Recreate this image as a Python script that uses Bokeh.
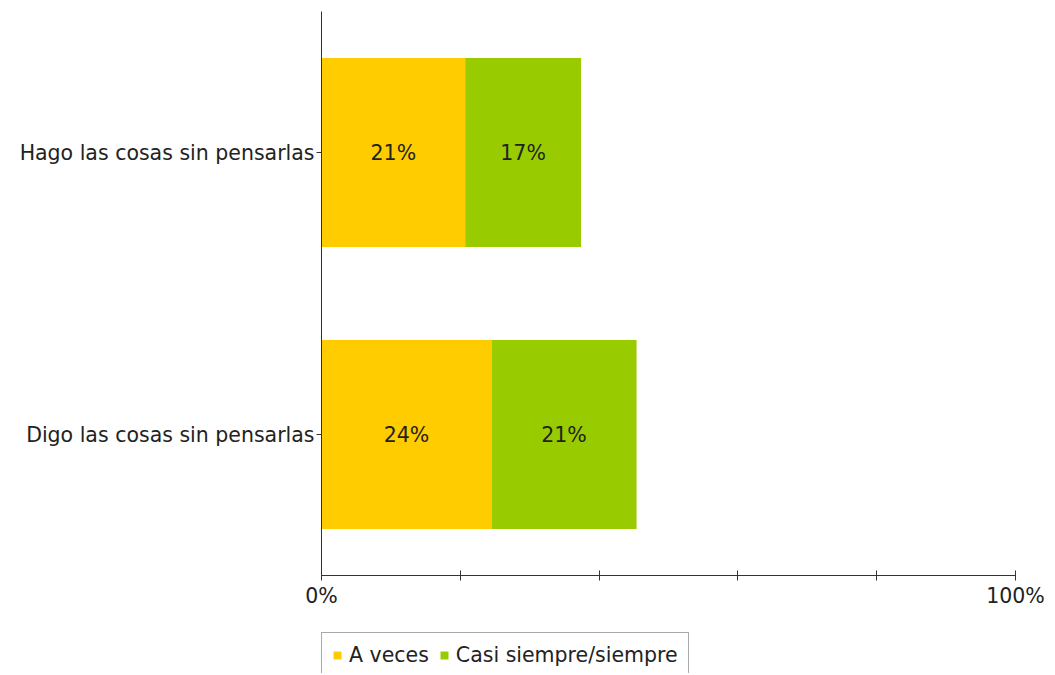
from bokeh.plotting import figure
from bokeh.layouts import column
from bokeh.models import (ColumnDataSource, FactorRange, Range1d, FixedTicker,
                          Legend, LegendItem)
from bokeh.core.properties import value
from bokeh.embed import file_html
from bokeh.resources import INLINE

categories = ["Digo las cosas sin pensarlas", "Hago las cosas sin pensarlas"]
a_veces = [24.5, 20.7]
casi_siempre = [20.9, 16.7]
labels_a = ["24%", "21%"]
labels_c = ["21%", "17%"]
series_names = ["A veces", "Casi siempre/siempre"]
colors = ["#FFCC00", "#99CC00"]
x_ticks = [0, 20, 40, 60, 80, 100]
x_tick_labels = ["0%", "", "", "", "", "100%"]

FONT = "DejaVu Sans"
FS = "20.5px"
TXT = "#222222"

src = ColumnDataSource(dict(
    cat=categories,
    a=a_veces,
    c=casi_siempre,
    la=labels_a,
    lc=labels_c,
    xa=[v / 2 for v in a_veces],
    xc=[a + c / 2 for a, c in zip(a_veces, casi_siempre)],
))

p = figure(y_range=FactorRange(*categories),
           x_range=Range1d(0, 100), output_backend="svg", toolbar_location=None,
           frame_width=694, frame_height=564,
           min_border_left=321, min_border_right=35, min_border_top=11,
           min_border_bottom=40)
p.outline_line_color = None
p.xgrid.grid_line_color = None
p.ygrid.grid_line_color = None
p.y_range.range_padding = 0

rs = p.hbar_stack(["a", "c"], y="cat", height=0.67, color=colors, source=src,
                  line_color=None)

for col, xcol in (("la", "xa"), ("lc", "xc")):
    p.text(x=xcol, y="cat", text=col, source=src, text_align="center",
           text_baseline="middle", text_font=value(FONT), text_font_size=FS,
           text_color=TXT)

xa = p.xaxis[0]
xa.ticker = FixedTicker(ticks=x_ticks)
xa.major_label_overrides = {t: l for t, l in zip(x_ticks, x_tick_labels)}
xa.minor_tick_line_color = None
xa.major_tick_in = 5
xa.major_tick_out = 5
xa.major_label_standoff = 3
xa.axis_line_color = "#333333"
xa.major_tick_line_color = "#333333"
xa.major_label_text_font = FONT
xa.major_label_text_font_size = FS
xa.major_label_text_color = TXT

ya = p.yaxis[0]
ya.major_tick_in = 0
ya.major_tick_out = 5
ya.minor_tick_line_color = None
ya.major_label_standoff = 2
ya.axis_line_color = "#333333"
ya.major_tick_line_color = "#333333"
ya.major_label_text_font = FONT
ya.major_label_text_font_size = FS
ya.major_label_text_color = TXT

# legend strip below the chart (its bars fall outside its x range, only the legend shows)
p2 = figure(width=1050, height=58, y_range=FactorRange(*categories),
            x_range=Range1d(1000, 1100), output_backend="svg",
            toolbar_location=None, x_axis_type=None, y_axis_type=None,
            min_border_left=311, min_border_right=0, min_border_top=17,
            min_border_bottom=0)
p2.outline_line_color = None
p2.xgrid.grid_line_color = None
p2.ygrid.grid_line_color = None
leg_rs = p2.hbar_stack(["a", "c"], y="cat", height=0.67, color=colors, source=src,
                       line_color=None)

legend = Legend(items=[LegendItem(label=n, renderers=[r]) for n, r in zip(series_names, leg_rs)],
                orientation="horizontal", location="top_left",
                glyph_width=10, glyph_height=10, label_standoff=7, spacing=10,
                padding=10, margin=0,
                label_text_font=FONT, label_text_font_size=FS, label_text_color=TXT,
                border_line_color="#555555", border_line_width=1,
                background_fill_alpha=1)
p2.add_layout(legend, "center")

open("out.html", "w").write(file_html(column(p, p2), INLINE))
